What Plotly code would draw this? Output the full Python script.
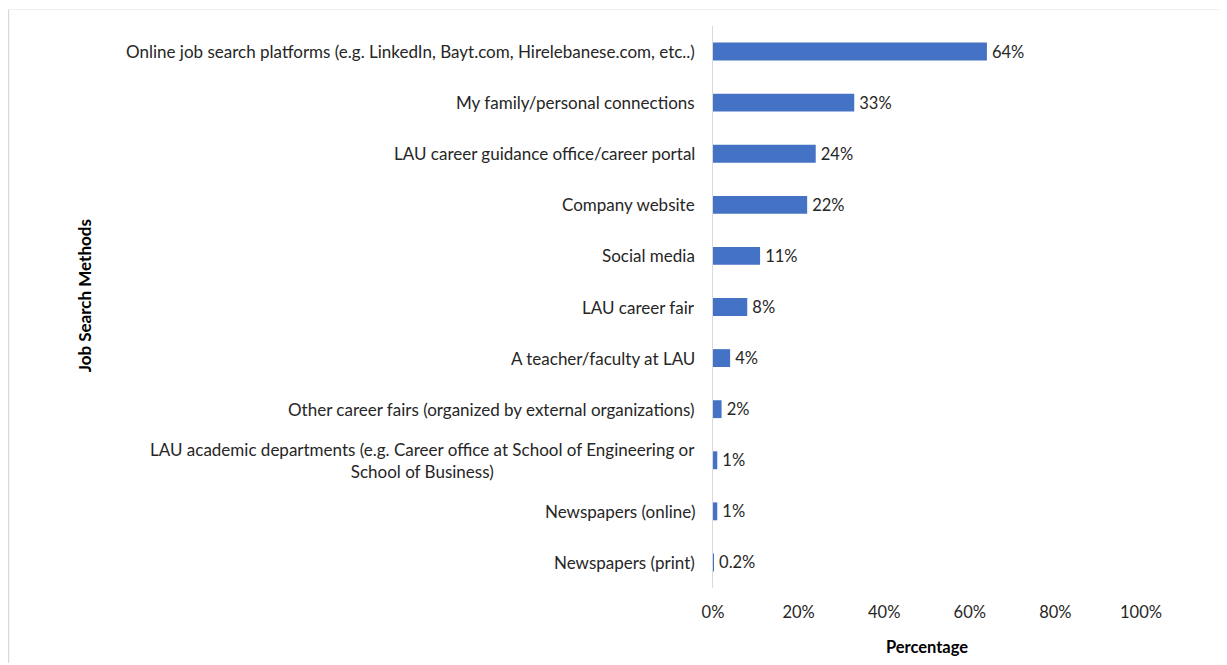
import plotly.graph_objects as go

categories = [
    "Online job search platforms (e.g. LinkedIn, Bayt.com, Hirelebanese.com, etc..)",
    "My family/personal connections",
    "LAU career guidance office/career portal",
    "Company website",
    "Social media",
    "LAU career fair",
    "A teacher/faculty at LAU",
    "Other career fairs (organized by external organizations)",
    "LAU academic departments (e.g. Career office at School of Engineering or<br>School of Business)",
    "Newspapers (online)",
    "Newspapers (print)",
]
values = [64, 33, 24, 22, 11, 8, 4, 2, 1, 1, 0.2]
x_ticks = [0, 20, 40, 60, 80, 100]
x_tick_labels = ["0%", "20%", "40%", "60%", "80%", "100%"]

labels = [("\u2009" + (f"{v:.1f}%" if v < 1 else f"{v:.0f}%")) for v in values]

FONT = "Lato"
W, H = 1219, 657          # page body has an 8px margin
L, R, T, B = 705, 86, 18, 75
PW = W - L - R
PH = H - T - B

fig = go.Figure()
fig.add_trace(go.Bar(
    y=categories,
    x=values,
    orientation="h",
    marker=dict(color="#4472C4", line=dict(width=0)),
    width=0.35,
    text=labels,
    textposition="outside",
    constraintext="none",
    textfont=dict(family=FONT, size=16.5, color="#262626"),
    cliponaxis=False,
    hoverinfo="x+y",
))

fig.update_layout(
    width=W, height=H,
    margin=dict(l=L, r=R, t=T, b=B),
    plot_bgcolor="white", paper_bgcolor="white",
    showlegend=False,
    font=dict(family=FONT, size=16.5, color="#262626"),
    xaxis=dict(
        range=[0, 100], tickvals=x_ticks, ticktext=x_tick_labels,
        showgrid=False, zeroline=False, showline=False,
        tickfont=dict(family=FONT, size=16.5, color="#262626"),
        ticklabelstandoff=12,
        title=dict(text="<b>Percentage</b>", font=dict(family=FONT, size=16.5, color="#000000"), standoff=20),
    ),
    yaxis=dict(
        autorange="reversed",
        showgrid=False, zeroline=False,
        showline=True, linecolor="#D9D9D9", linewidth=1,
        ticks="", showticklabels=False,
    ),
)

# category labels (multi-line labels centred like the original)
for c in categories:
    fig.add_annotation(
        text=c, xref="paper", yref="y", x=0, y=c, xshift=-16,
        xanchor="right", yanchor="middle", align="center", showarrow=False,
        font=dict(family=FONT, size=17, color="#262626"),
    )

fig.add_annotation(
    text="<b>Job Search Methods</b>", textangle=-90,
    xref="paper", yref="paper", x=-(L - 76) / PW, y=0.519,
    xanchor="center", yanchor="middle", showarrow=False,
    font=dict(family=FONT, size=17, color="#000000"),
)

# outer chart border (left and top edges visible in reference)
fig.add_shape(type="line", xref="paper", yref="paper",
              x0=-(L - 0.5) / PW, x1=-(L - 0.5) / PW, y0=-B / PH, y1=(H - B - 1.5) / PH,
              line=dict(color="#D9D9D9", width=1.5))
fig.add_shape(type="line", xref="paper", yref="paper",
              x0=-(L - 0.5) / PW, x1=(W - L) / PW, y0=(H - B - 1.5) / PH, y1=(H - B - 1.5) / PH,
              line=dict(color="#F0F0F0", width=1))

fig.write_html("out.html")
